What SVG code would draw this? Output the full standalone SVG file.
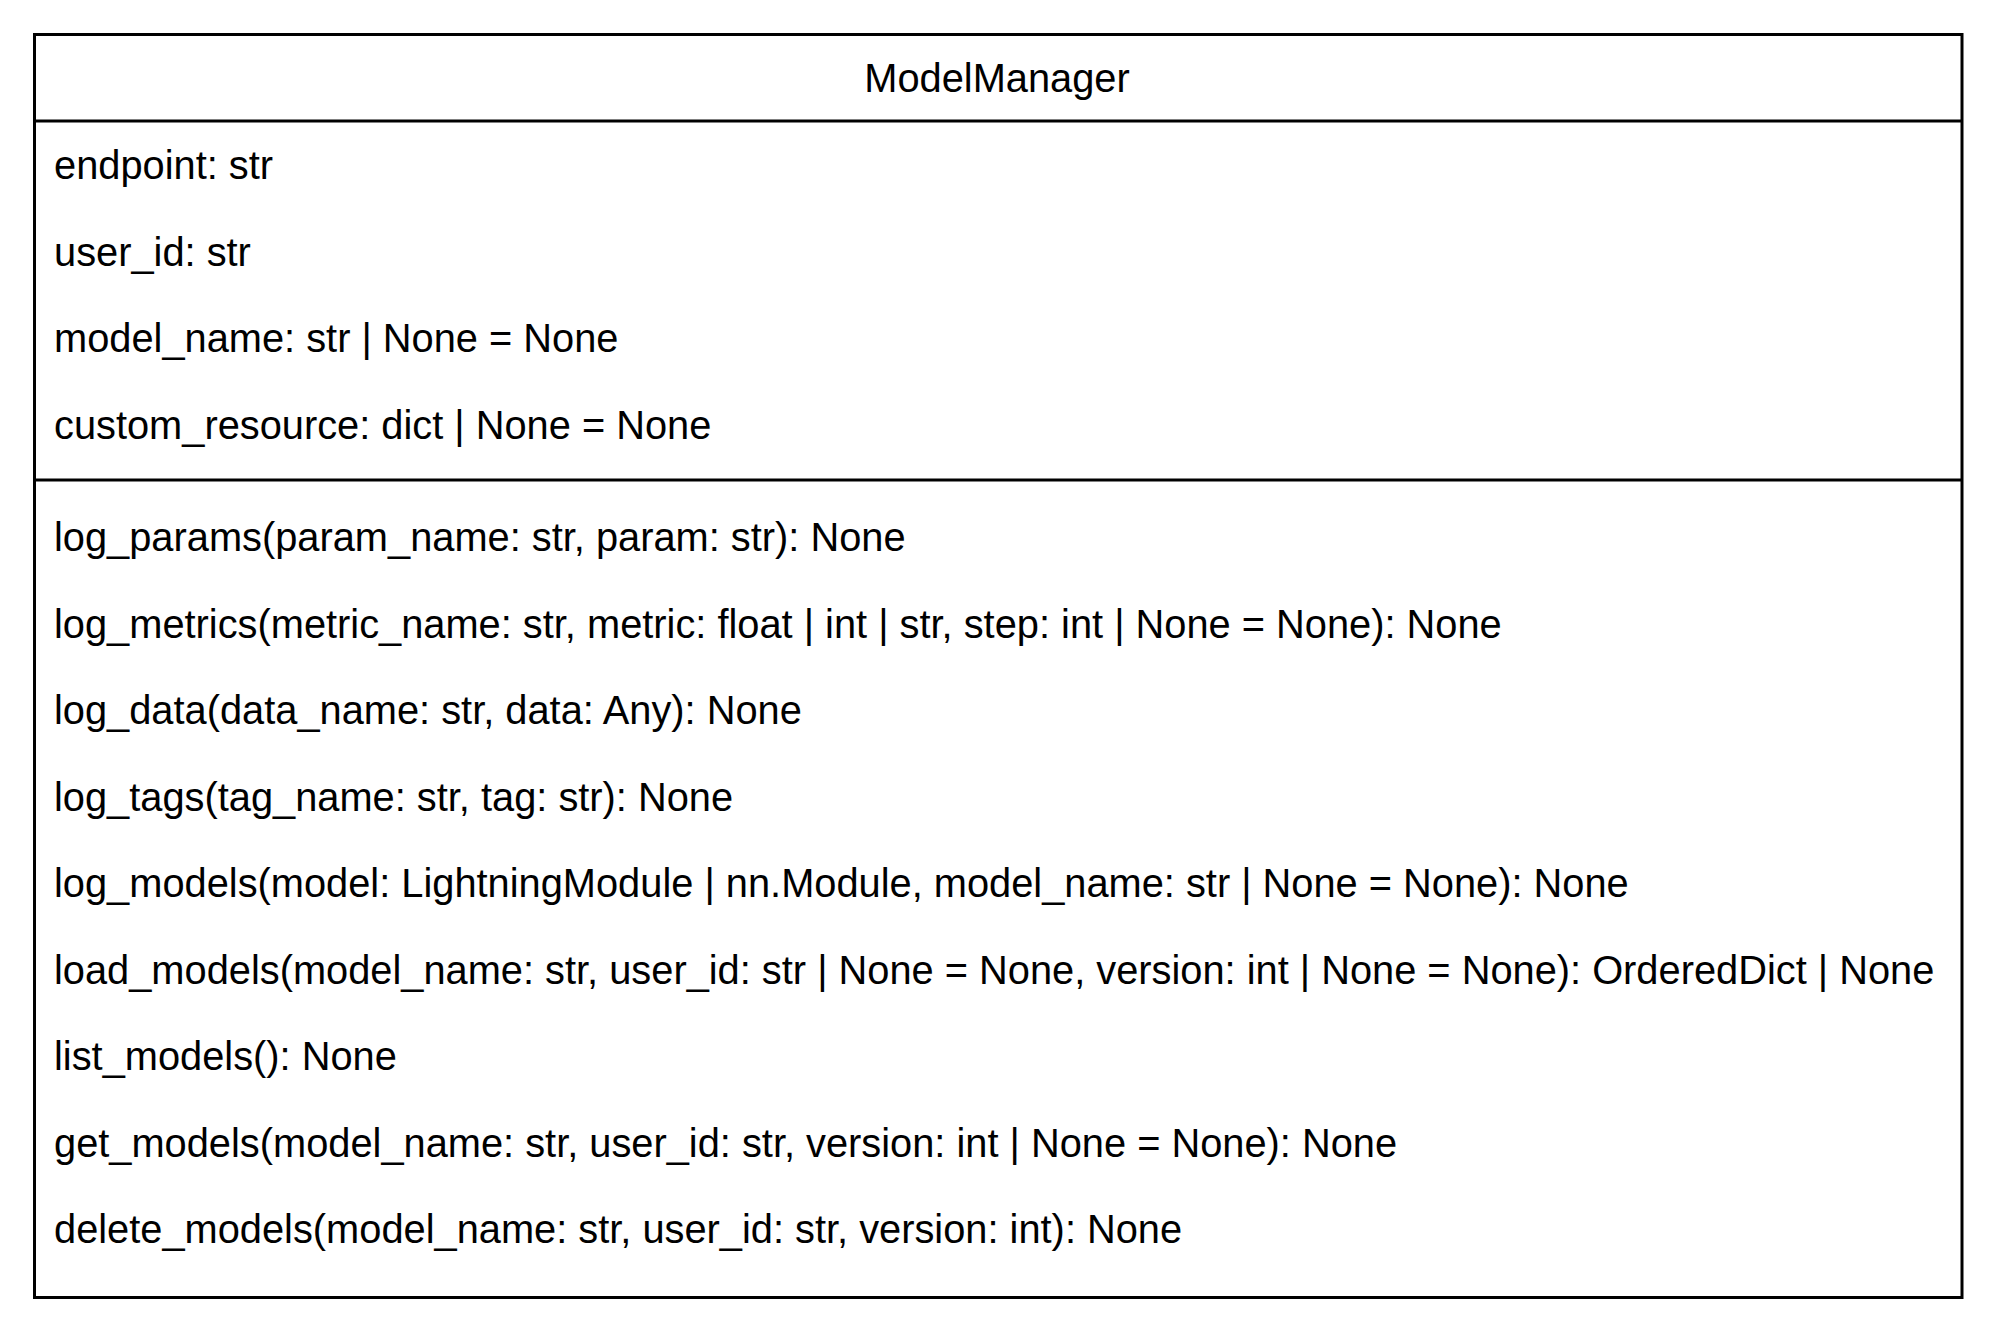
<svg xmlns="http://www.w3.org/2000/svg" width="2000" height="1332" viewBox="0 0 2000 1332">
<style>
  .t { font-family: "Liberation Sans", Arial, Helvetica, sans-serif; font-size: 39.8px; fill: #000; }
  .ln { stroke: #000; stroke-width: 3; fill: none; }
</style>
<rect x="0" y="0" width="2000" height="1332" fill="#fff"/>
<g id="ModelManager">
  <rect class="ln" x="34.5" y="34.5" width="1927.5" height="1263" fill="#fff"/>
  <line class="ln" x1="34.5" y1="121" x2="1962" y2="121"/>
  <line class="ln" x1="34.5" y1="480" x2="1962" y2="480"/>
  <text class="t" x="997" y="92" text-anchor="middle">ModelManager</text>
  <text class="t" x="54" y="179">endpoint: str</text>
  <text class="t" x="54" y="265.5">user_id: str</text>
  <text class="t" x="54" y="352">model_name: str | None = None</text>
  <text class="t" x="54" y="438.5">custom_resource: dict | None = None</text>
  <text class="t" x="54" y="551">log_params(param_name: str, param: str): None</text>
  <text class="t" x="54" y="637.5">log_metrics(metric_name: str, metric: float | int | str, step: int | None = None): None</text>
  <text class="t" x="54" y="724">log_data(data_name: str, data: Any): None</text>
  <text class="t" x="54" y="810.5">log_tags(tag_name: str, tag: str): None</text>
  <text class="t" x="54" y="897">log_models(model: LightningModule | nn.Module, model_name: str | None = None): None</text>
  <text class="t" x="54" y="983.5">load_models(model_name: str, user_id: str | None = None, version: int | None = None): OrderedDict | None</text>
  <text class="t" x="54" y="1070">list_models(): None</text>
  <text class="t" x="54" y="1156.5">get_models(model_name: str, user_id: str, version: int | None = None): None</text>
  <text class="t" x="54" y="1243">delete_models(model_name: str, user_id: str, version: int): None</text>
</g>
<g id="connectors"></g>
</svg>
